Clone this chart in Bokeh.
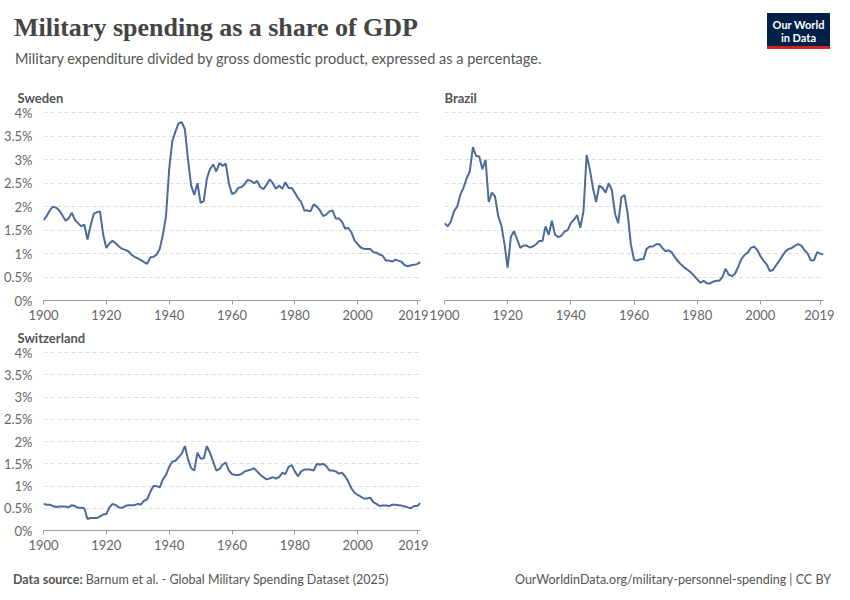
from bokeh.plotting import figure
from bokeh.models import Div, CustomJSTickFormatter, FixedTicker, Range1d
from bokeh.layouts import column, row
from bokeh.embed import file_html
from bokeh.resources import INLINE

years = list(range(1900, 2021))
sweden = [1.71,1.8,1.92,2.0,1.98,1.92,1.82,1.7,1.75,1.87,1.72,1.65,1.58,1.62,1.3,1.6,1.85,1.88,1.9,1.4,
          1.12,1.22,1.27,1.22,1.15,1.1,1.08,1.05,0.98,0.93,0.9,0.86,0.82,0.78,0.92,0.93,0.98,1.1,1.4,1.8,
          2.8,3.4,3.6,3.78,3.8,3.65,3.0,2.45,2.25,2.5,2.08,2.12,2.6,2.8,2.9,2.75,2.93,2.87,2.92,2.5,
          2.27,2.3,2.4,2.42,2.48,2.57,2.55,2.5,2.55,2.42,2.37,2.47,2.58,2.5,2.38,2.45,2.38,2.52,2.4,2.4,
          2.3,2.18,2.1,1.92,1.92,1.9,2.05,2.0,1.92,1.8,1.83,1.9,1.92,1.75,1.75,1.68,1.53,1.55,1.45,1.28,
          1.2,1.13,1.1,1.1,1.1,1.03,1.02,0.98,0.95,0.85,0.85,0.83,0.87,0.85,0.82,0.75,0.73,0.75,0.76,0.78,0.82]
brazil = [1.65,1.58,1.68,1.9,2.0,2.25,2.4,2.6,2.75,3.27,3.08,3.07,2.8,3.0,2.1,2.3,2.22,1.8,1.6,1.2,
          0.7,1.35,1.48,1.3,1.12,1.17,1.17,1.13,1.15,1.2,1.27,1.27,1.58,1.4,1.7,1.4,1.35,1.38,1.47,1.5,
          1.65,1.72,1.82,1.55,1.9,3.1,2.8,2.4,2.1,2.45,2.4,2.3,2.5,2.35,1.85,1.65,2.2,2.25,1.85,1.2,
          0.87,0.85,0.88,0.88,1.1,1.15,1.15,1.2,1.2,1.12,1.05,1.07,1.02,0.92,0.83,0.76,0.7,0.65,0.6,0.53,
          0.45,0.38,0.42,0.37,0.36,0.4,0.42,0.42,0.5,0.68,0.55,0.52,0.57,0.72,0.88,0.97,1.02,1.12,1.15,1.08,
          0.95,0.85,0.77,0.63,0.65,0.75,0.85,0.95,1.05,1.1,1.12,1.17,1.2,1.17,1.07,1.0,0.85,0.86,1.03,1.0,0.98]
switzerland = [0.6,0.58,0.58,0.55,0.53,0.54,0.54,0.54,0.52,0.57,0.55,0.51,0.51,0.5,0.26,0.28,0.28,0.28,0.32,0.36,
          0.37,0.52,0.6,0.57,0.52,0.51,0.55,0.57,0.57,0.57,0.6,0.58,0.67,0.7,0.87,1.0,1.0,0.97,1.15,1.25,
          1.43,1.55,1.57,1.65,1.73,1.9,1.6,1.4,1.35,1.75,1.62,1.62,1.9,1.75,1.55,1.35,1.38,1.48,1.53,1.35,
          1.27,1.25,1.25,1.27,1.33,1.35,1.37,1.4,1.33,1.25,1.2,1.15,1.17,1.2,1.17,1.2,1.3,1.27,1.43,1.47,
          1.33,1.22,1.33,1.37,1.37,1.37,1.35,1.5,1.48,1.5,1.45,1.35,1.35,1.33,1.28,1.3,1.22,1.1,0.95,0.85,
          0.8,0.76,0.72,0.72,0.74,0.64,0.6,0.55,0.56,0.56,0.55,0.58,0.58,0.57,0.56,0.54,0.52,0.5,0.55,0.55,0.62]
x_ticks = [1900, 1920, 1940, 1960, 1980, 2000, 2019]
y_ticks = [0, 0.5, 1, 1.5, 2, 2.5, 3, 3.5, 4]

FONT = "Lato"
LINE = "#4c6a9c"

def panel(name, vals, width, height, show_y, left, right, bottom):
    p = figure(width=width, height=height, output_backend="svg", toolbar_location=None,
               x_range=Range1d(1900, 2020), y_range=Range1d(0, 4.05),
               min_border_left=left, min_border_right=right, min_border_top=8, min_border_bottom=bottom,
               title=name)
    p.title.text_font = FONT
    p.title.text_font_size = "13px"
    p.title.text_font_style = "bold"
    p.title.text_color = "#555555"
    p.title.offset = -26 if show_y else 0
    p.line(years, vals, line_color=LINE, line_width=2)
    p.outline_line_color = None
    p.xgrid.grid_line_color = None
    p.ygrid.grid_line_color = "#dddddd"
    p.ygrid.grid_line_dash = "4 3"
    p.yaxis.ticker = FixedTicker(ticks=y_ticks)
    p.xaxis.ticker = FixedTicker(ticks=x_ticks)
    p.yaxis.formatter = CustomJSTickFormatter(code="return tick + '%';")
    for ax in (p.xaxis, p.yaxis):
        ax.major_label_text_font = FONT
        ax.major_label_text_font_size = "13px"
        ax.major_label_text_color = "#666666"
        ax.minor_tick_line_color = None
    p.yaxis.axis_line_color = None
    p.yaxis.major_tick_line_color = None
    p.xaxis.axis_line_color = "#999999"
    p.xaxis.major_tick_line_color = "#999999"
    p.xaxis.major_tick_in = 0
    p.xaxis.major_tick_out = 4
    if not show_y:
        p.yaxis.visible = False
    return p

f1 = panel("Sweden", sweden, 428, 240, True, 41, 8, 10)
f2 = panel("Brazil", brazil, 406, 240, False, 16, 11, 10)
f3 = panel("Switzerland", switzerland, 428, 230, True, 41, 8, 0)

header = Div(width=834, height=72, text="""
<div style="position:relative;width:834px;height:72px;">
 <div style="position:absolute;left:9px;top:4px;font-family:'Liberation Serif',serif;font-weight:bold;font-size:26px;color:#444;">Military spending as a share of GDP</div>
 <div style="position:absolute;left:10px;top:44px;font-family:Lato;font-size:14.5px;color:#555;">Military expenditure divided by gross domestic product, expressed as a percentage.</div>
 <div style="position:absolute;left:762px;top:8px;width:63px;height:36px;background:#002147;border-bottom:3px solid #ce261e;color:#fff;font-family:Lato;font-weight:bold;font-size:11px;line-height:13px;text-align:center;padding-top:5px;box-sizing:border-box;">Our World<br>in Data</div>
</div>""")

footer = Div(width=834, height=34, text="""
<div style="position:relative;width:834px;height:34px;font-family:Lato;font-size:12.5px;color:#555;">
 <div style="position:absolute;left:8px;top:14px;"><b>Data source:</b> Barnum et al. - Global Military Spending Dataset (2025)</div>
 <div style="position:absolute;right:8px;top:14px;">OurWorldinData.org/military-personnel-spending | CC BY</div>
</div>""")

layout = column(header, row(f1, f2), f3, footer)
open("out.html", "w").write(file_html(layout, INLINE))
